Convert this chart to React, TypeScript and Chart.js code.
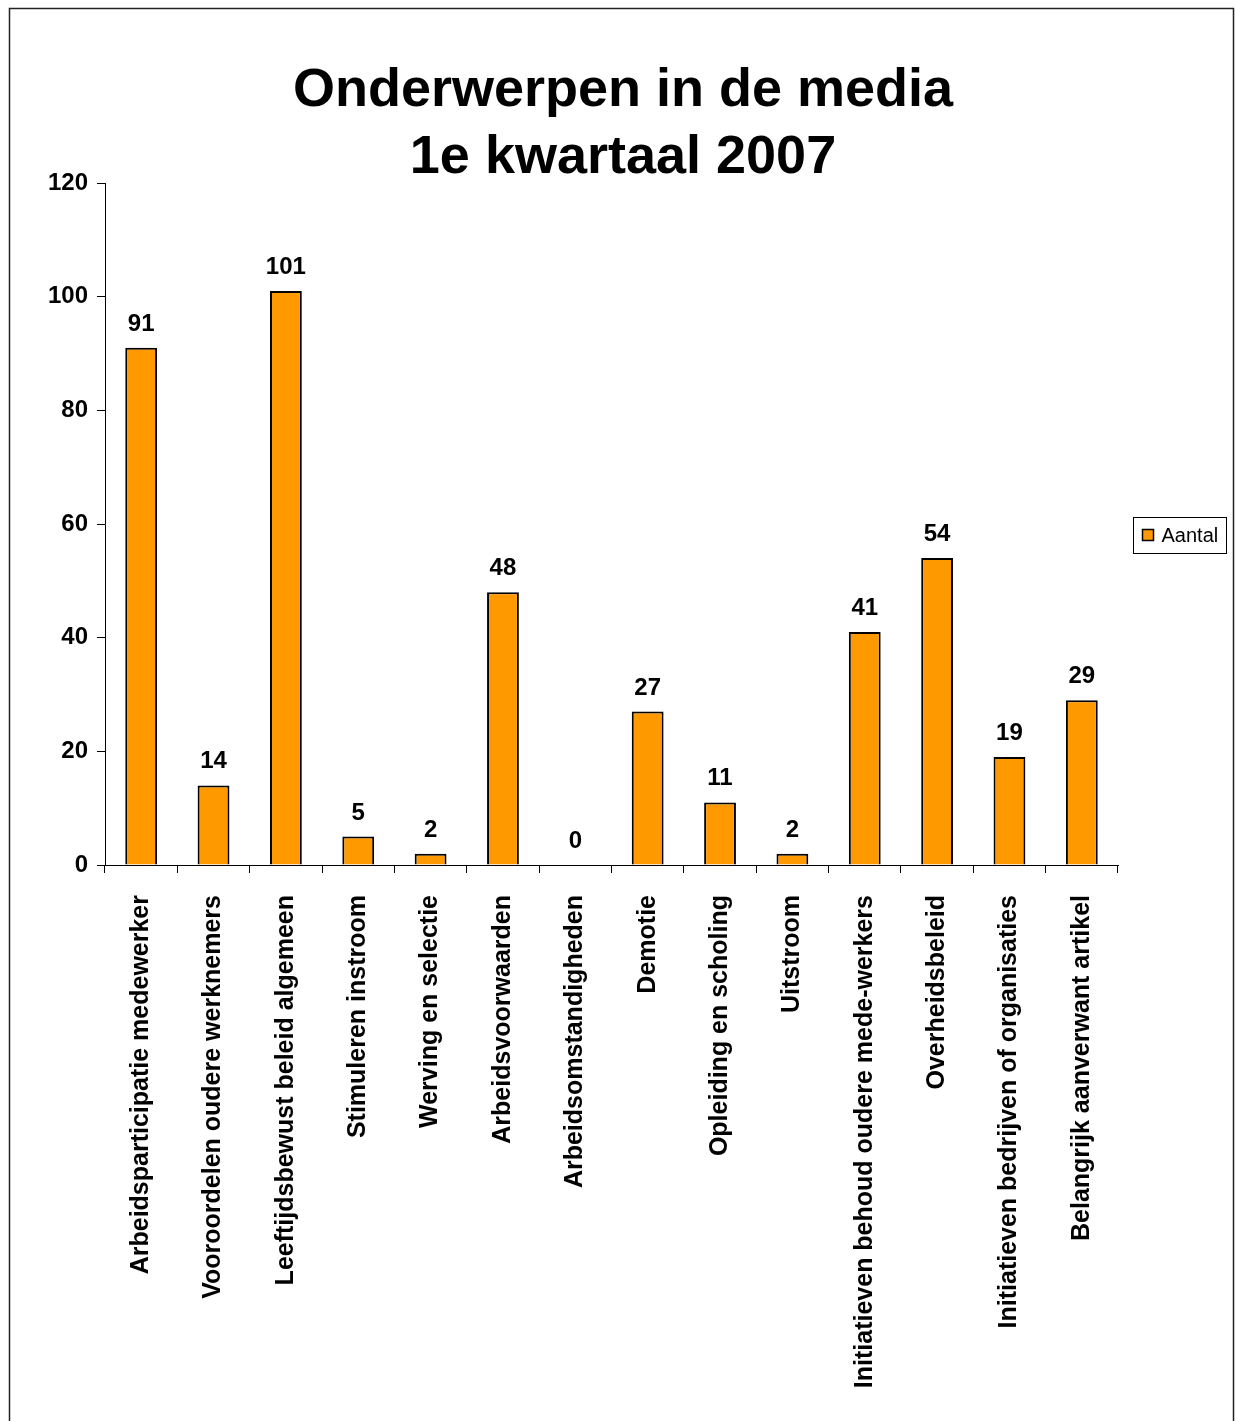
import React, { useEffect, useRef } from 'react';
import { Chart, registerables } from 'chart.js';

Chart.register(...registerables);

const TITLE_LINES = ['Onderwerpen in de media', '1e kwartaal 2007'];
const SERIES_LABEL = 'Aantal';
const CATEGORIES = [
  'Arbeidsparticipatie medewerker',
  'Vooroordelen oudere werknemers',
  'Leeftijdsbewust beleid algemeen',
  'Stimuleren instroom',
  'Werving en selectie',
  'Arbeidsvoorwaarden',
  'Arbeidsomstandigheden',
  'Demotie',
  'Opleiding en scholing',
  'Uitstroom',
  'Initiatieven behoud oudere mede-werkers',
  'Overheidsbeleid',
  'Initiatieven bedrijven of organisaties',
  'Belangrijk aanverwant artikel',
];
const VALUES = [91, 14, 101, 5, 2, 48, 0, 27, 11, 2, 41, 54, 19, 29];
const Y_MIN = 0;
const Y_MAX = 120;
const Y_STEP = 20;

const FONT = '"Liberation Sans", Arial, sans-serif';
const BAR_COLOR = '#FF9900';

const W = 1236;
const H = 1421;

export default function App() {
  const ref = useRef<HTMLCanvasElement | null>(null);

  useEffect(() => {
    const canvas = ref.current;
    if (!canvas) return;

    const framePlugin = {
      id: 'frame',
      beforeDraw(chart: any) {
        const { ctx } = chart;
        ctx.save();
        ctx.fillStyle = '#fff';
        ctx.fillRect(0, 0, chart.width, chart.height);
        ctx.strokeStyle = '#222';
        ctx.lineWidth = 1.5;
        ctx.strokeRect(9.5, 8.5, 1224, 1600);
        ctx.restore();
      },
    };

    const titlePlugin = {
      id: 'customTitle',
      afterDraw(chart: any) {
        const { ctx } = chart;
        ctx.save();
        ctx.fillStyle = '#000';
        ctx.font = `bold 54px ${FONT}`;
        ctx.textAlign = 'center';
        ctx.textBaseline = 'alphabetic';
        const cx = 623;
        TITLE_LINES.forEach((line, i) => {
          ctx.fillText(line, cx, 106 + i * 67);
        });
        ctx.restore();
      },
    };

    const valueLabelPlugin = {
      id: 'valueLabels',
      afterDatasetsDraw(chart: any) {
        const { ctx } = chart;
        const meta = chart.getDatasetMeta(0);
        const data = chart.data.datasets[0].data as number[];
        ctx.save();
        ctx.fillStyle = '#000';
        ctx.font = `bold 24px ${FONT}`;
        ctx.textAlign = 'center';
        ctx.textBaseline = 'alphabetic';
        meta.data.forEach((bar: any, i: number) => {
          ctx.fillText(String(data[i]), bar.x, bar.y - 17);
        });
        ctx.restore();
      },
    };

    const legendPlugin = {
      id: 'boxLegend',
      afterDraw(chart: any) {
        const { ctx, chartArea } = chart;
        const x = chartArea.right + 15.5;
        const y = 517.5;
        const w = 93;
        const h = 36;
        ctx.save();
        ctx.fillStyle = '#fff';
        ctx.fillRect(x, y, w, h);
        ctx.strokeStyle = '#000';
        ctx.lineWidth = 1;
        ctx.strokeRect(x, y, w, h);
        ctx.fillStyle = BAR_COLOR;
        ctx.fillRect(x + 9, y + 12, 11, 11);
        ctx.lineWidth = 1.5;
        ctx.strokeRect(x + 9, y + 12, 11, 11);
        ctx.fillStyle = '#000';
        ctx.font = `20px ${FONT}`;
        ctx.textAlign = 'left';
        ctx.textBaseline = 'middle';
        ctx.fillText(chart.data.datasets[0].label, x + 28, y + h / 2 + 1);
        ctx.restore();
      },
    };

    const chart = new Chart(canvas, {
      type: 'bar',
      data: {
        labels: CATEGORIES,
        datasets: [
          {
            label: SERIES_LABEL,
            data: VALUES,
            backgroundColor: BAR_COLOR,
            borderColor: '#000',
            borderWidth: 2,
            categoryPercentage: 1,
            barPercentage: 0.44,
          },
        ],
      },
      options: {
        responsive: false,
        animation: false,
        devicePixelRatio: 1,
        layout: { padding: { top: 183, left: 0, right: 118, bottom: 0 } },
        plugins: {
          legend: { display: false },
          title: { display: false },
          tooltip: { enabled: false },
        },
        scales: {
          x: {
            type: 'category',
            grid: {
              offset: true,
              drawOnChartArea: false,
              drawTicks: true,
              tickLength: 8,
              color: '#000',
            },
            border: { display: true, color: '#000', width: 1 },
            ticks: {
              autoSkip: false,
              minRotation: 90,
              maxRotation: 90,
              padding: 22,
              color: '#000',
              font: { family: FONT, size: 25, weight: 'bold' },
            },
            afterFit(scale: any) {
              scale.height = H - 865;
            },
          },
          y: {
            min: Y_MIN,
            max: Y_MAX,
            ticks: {
              stepSize: Y_STEP,
              padding: 9,
              color: '#000',
              font: { family: FONT, size: 24, weight: 'bold' },
            },
            grid: {
              drawOnChartArea: false,
              drawTicks: true,
              tickLength: 8,
              color: '#000',
            },
            border: { display: true, color: '#000', width: 1 },
            afterFit(scale: any) {
              scale.width = 105;
            },
          },
        },
      },
      plugins: [framePlugin, valueLabelPlugin, titlePlugin, legendPlugin],
    } as any);

    return () => chart.destroy();
  }, []);

  return (
    <div style={{ position: 'absolute', left: 0, top: 0, width: W, height: H, overflow: 'hidden' }}>
      <canvas ref={ref} width={W} height={H} style={{ display: 'block', width: W, height: H }} />
    </div>
  );
}
